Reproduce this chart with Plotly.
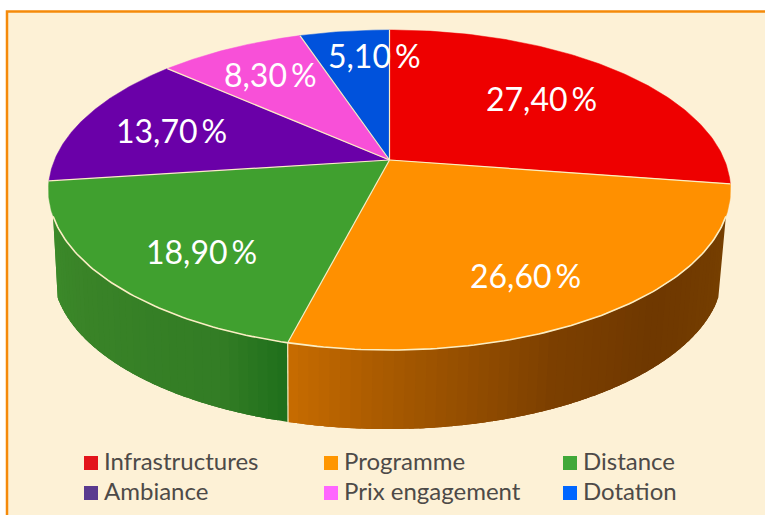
import numpy as np
import plotly.graph_objects as go

categories = ["Infrastructures", "Programme", "Distance", "Ambiance", "Prix engagement", "Dotation"]
values = [27.4, 26.6, 18.9, 13.7, 8.3, 5.1]
labels = ["27,40\u2009%", "26,60\u2009%", "18,90\u2009%", "13,70\u2009%", "8,30\u2009%", "5,10\u2009%"]
face_colors = ["#ee0000", "#ff9000", "#40a02f", "#6a00a8", "#f850d8", "#0052dc"]
legend_colors = ["#e3141b", "#ff9600", "#41a838", "#5a3a8f", "#ff66ff", "#0066ff"]

W, H = 765, 515
BG, BORDER, RIM, TXT = "#fdf1d6", "#f58a0a", "#fbeec4", "#4d4a48"
FONT = "Lato"

# perspective projection of the pie disc into page pixels
K = 0.1875


def project(theta, cx, vy, a, b):
    X, Y = np.sin(theta), np.cos(theta)
    w = 1 + K * Y
    return cx + b * X / w, vy - a * Y / w


def top(theta):
    return project(theta, 389.5, 160, 154.4, 335)


def base(theta):
    return project(theta, 388, 242, 152, 329)


def hex2rgb(h):
    return np.array([int(h[i:i + 2], 16) for i in (1, 3, 5)], float)


side_stops = {
    1: (["#7a4300", "#6f3800", "#7d4000", "#a85a00", "#c86c00"], [0, .4, .6, .85, 1]),
    2: (["#1f701c", "#337d25", "#3a8428", "#3d8f2c"], [0, .15, .6, 1]),
}
wall_from, wall_to = np.radians(110), np.radians(250)


def side_color(i, f):
    cols, pos = side_stops[i]
    rgb = np.array([np.interp(f, pos, [hex2rgb(c)[k] for c in cols]) for k in range(3)])
    return "rgb(%d,%d,%d)" % tuple(rgb)


edges = 2 * np.pi * np.concatenate([[0], np.cumsum(values)]) / sum(values)
fig = go.Figure()
skip = dict(hoverinfo="skip", showlegend=False)

# side wall, in overlapping strips for the shading
for i in side_stops:
    lo, hi = max(edges[i], wall_from), min(edges[i + 1], wall_to)
    n = int(np.degrees(hi - lo) / 1.5)
    t = np.linspace(lo, hi, n + 1)
    step = t[1] - t[0]
    for j in range(n):
        c = side_color(i, (t[j] + step / 2 - edges[i]) / (edges[i + 1] - edges[i]))
        tt = np.linspace(t[j], min(t[j] + 2.5 * step, hi), 4)
        xt, yt = top(tt)
        xb, yb = base(tt[::-1])
        fig.add_trace(go.Scatter(x=np.r_[xt, xb], y=np.r_[yt, yb], mode="none", fill="toself",
                                 fillcolor=c, **skip))

# seam on the wall between the two visible sectors
x0, y0 = top(edges[2]); x1, y1 = base(edges[2])
fig.add_trace(go.Scatter(x=[x0, x1], y=[y0, y1], mode="lines", line=dict(color=RIM, width=1.2), **skip))

# top faces
for i, cat in enumerate(categories):
    t = np.linspace(edges[i], edges[i + 1], 120)
    x, y = top(t)
    fig.add_trace(go.Scatter(x=np.r_[389.5, x], y=np.r_[160, y], mode="lines", fill="toself", name=cat,
                             fillcolor=face_colors[i], line=dict(color=face_colors[i], width=.5),
                             hoverinfo="skip", showlegend=False))

# sector dividers
for e in edges[:-1]:
    x, y = top(e)
    fig.add_trace(go.Scatter(x=[389.5, x], y=[160, y], mode="lines", line=dict(color=RIM, width=1.2), **skip))

# front rim
t = np.linspace(wall_from, wall_to, 160)
x, y = top(t)
fig.add_trace(go.Scatter(x=x, y=y, mode="lines", line=dict(color=RIM, width=1.6), **skip))

ann = []
label_at = [(541, 98), (525, 275), (201, 251), (171, 130), (270, 74), (374, 55)]
for (px, py), s in zip(label_at, labels):
    ann.append(dict(x=px, y=py, text=s, showarrow=False, xanchor="center", yanchor="middle",
                    font=dict(family=FONT, size=32, color="white")))

# legend block
cols, rows = [91, 331, 570], [463, 493]
sx, sy = [], []
for k in range(len(categories)):
    sx.append(cols[k % 3]); sy.append(rows[k // 3])
    ann.append(dict(x=cols[k % 3] + 11, y=rows[k // 3] - 2.5, text=categories[k], showarrow=False,
                    xanchor="left", yanchor="middle", font=dict(family=FONT, size=24, color=TXT)))
fig.add_trace(go.Scatter(x=sx, y=sy, mode="markers", **skip,
                         marker=dict(symbol="square", size=14, color=legend_colors, line=dict(width=0))))

fig.update_layout(
    width=W, height=H, margin=dict(l=0, r=0, t=0, b=0), paper_bgcolor="white", plot_bgcolor="white",
    xaxis=dict(range=[0, W], visible=False, fixedrange=True),
    yaxis=dict(range=[H, 0], visible=False, fixedrange=True),
    annotations=ann,
    shapes=[dict(type="rect", x0=7, y0=11.5, x1=W + 20, y1=H + 20, layer="below",
                 fillcolor=BG, line=dict(color=BORDER, width=2.5))],
)
fig.write_html("out.html", config={"displayModeBar": False},
               post_script="document.body.style.margin='0';document.documentElement.style.overflow='hidden';")
